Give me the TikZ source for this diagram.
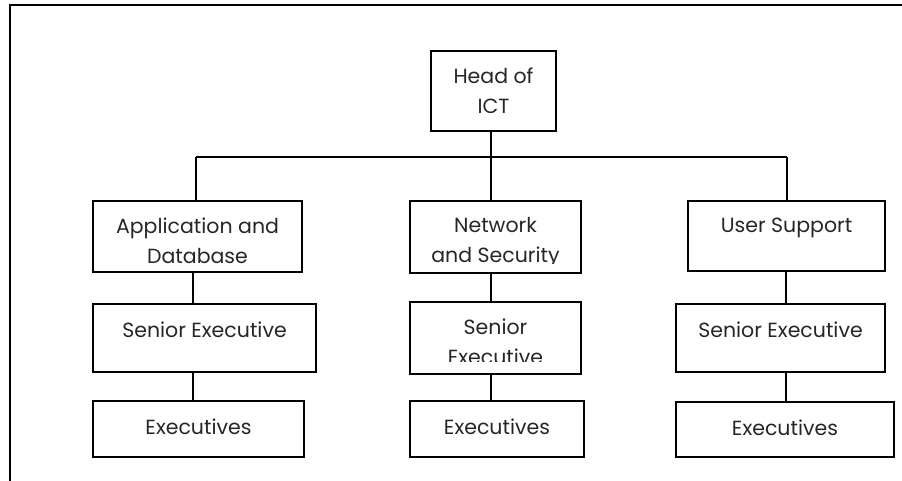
\documentclass[tikz,border=0pt]{standalone}
\usepackage{fontspec}
\setmainfont{Poppins}
\begin{document}
\begin{tikzpicture}[x=1pt,y=-1pt,
  orgbox/.style={draw=black,line width=1.3pt,inner sep=0pt},
  lbl/.style={anchor=north,inner sep=0pt,align=center,
    font=\fontsize{20.5}{30}\selectfont,text=black!85},
  wire/.style={draw=black,line width=1.3pt},
  frameline/.style={draw=black,line width=2pt}]
\useasboundingbox (0,0) rectangle (902,481);
% outer frame (top and left edges only)
\draw[frameline] (10,481) -- (10,5) -- (902,5);

% boxes
\node[orgbox,minimum width=125pt,minimum height=80pt] (head) at (493.5,91) {};
\node[orgbox,minimum width=209pt,minimum height=71pt] (app) at (197.5,236.5) {};
\node[orgbox,minimum width=171pt,minimum height=72pt] (net) at (495.5,237) {};
\node[orgbox,minimum width=197pt,minimum height=70pt] (usr) at (786.5,236) {};
\node[orgbox,minimum width=223pt,minimum height=68pt] (sena) at (204.5,338) {};
\node[orgbox,minimum width=171pt,minimum height=72pt] (senb) at (495.5,338) {};
\node[orgbox,minimum width=209pt,minimum height=68pt] (senc) at (780.5,338) {};
\node[orgbox,minimum width=211pt,minimum height=56pt] (exa) at (198.5,429) {};
\node[orgbox,minimum width=174pt,minimum height=56pt] (exb) at (497,429) {};
\node[orgbox,minimum width=218pt,minimum height=55pt] (exc) at (785,429.5) {};

% labels
\node[lbl] (headT) at ([yshift=-17pt]head.north) {Head of\\ICT};
\node[lbl] (appT) at ([yshift=-17pt]app.north) {Application and\\Database};
\begin{scope}
  \clip (411,202) rectangle (580,263);
  \node[lbl] (netT) at ([yshift=-17pt]net.north) {Network\\and Security};
\end{scope}
\node[lbl] (usrT) at ([yshift=-17pt]usr.north) {User Support};
\node[lbl] (senaT) at ([yshift=-18pt]sena.north) {Senior Executive};
\begin{scope}
  \clip (411,303) rectangle (580,361);
  \node[lbl] (senbT) at ([yshift=-17pt]senb.north) {Senior\\Executive};
\end{scope}
\node[lbl] (sencT) at ([yshift=-18pt]senc.north) {Senior Executive};
\node[lbl] (exaT) at ([yshift=-18pt]exa.north) {Executives};
\node[lbl] (exbT) at ([yshift=-18pt]exb.north) {Executives};
\node[lbl] (excT) at ([yshift=-18pt]exc.north) {Executives};

% bus and drop points
\coordinate (busL) at (196,157);
\coordinate (busM) at (491,157);
\coordinate (busR) at (787,157);
\coordinate (colA) at (193,0);
\coordinate (colB) at (491,0);
\coordinate (colC) at (786,0);

% connectors
\draw[wire] (head.south -| busM) -- (busM);
\draw[wire] (busL) -- (busR);
\draw[wire] (busL) -- (busL |- app.north);
\draw[wire] (busM) -- (busM |- net.north);
\draw[wire] (busR) -- (busR |- usr.north);
\draw[wire] (app.south -| colA) -- (sena.north -| colA);
\draw[wire] (net.south -| colB) -- (senb.north -| colB);
\draw[wire] (usr.south -| colC) -- (senc.north -| colC);
\draw[wire] (sena.south -| colA) -- (exa.north -| colA);
\draw[wire] (senb.south -| colB) -- (exb.north -| colB);
\draw[wire] (senc.south -| colC) -- (exc.north -| colC);
\end{tikzpicture}
\end{document}
